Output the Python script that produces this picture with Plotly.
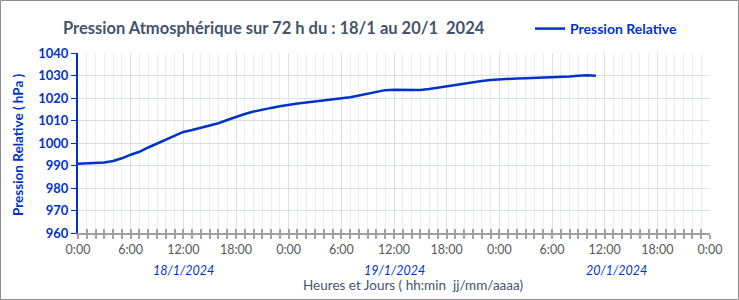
import plotly.graph_objects as go

# Data: hours since 18/1/2024 00:00 and relative pressure (hPa)
hours = list(range(0, 60))
pressure = [990.8, 991.0, 991.1, 991.3, 992.0, 993.2, 994.8, 996.1, 998.0, 999.8,
            1001.6, 1003.4, 1004.9, 1005.8, 1006.8, 1007.6, 1008.8, 1010.2, 1011.6, 1012.9,
            1014.0, 1014.9, 1015.6, 1016.3, 1017.0, 1017.6, 1018.0, 1018.5, 1018.9, 1019.3,
            1019.7, 1020.3, 1021.1, 1021.9, 1022.8, 1023.5, 1023.7, 1023.7, 1023.6, 1023.6,
            1024.0, 1024.6, 1025.3, 1026.0, 1026.7, 1027.2, 1027.6, 1028.0, 1028.3, 1028.5,
            1028.7, 1028.8, 1028.9, 1029.0, 1029.1, 1029.2, 1029.6, 1029.9, 1030.1, 1029.9]

x_tick_vals = [0, 6, 12, 18, 24, 30, 36, 42, 48, 54, 60, 66, 72]
x_tick_text = ["0:00", "6:00", "12:00", "18:00", "0:00", "6:00", "12:00", "18:00",
               "0:00", "6:00", "12:00", "18:00", "0:00"]
day_labels = ["18/1/2024", "19/1/2024", "20/1/2024"]
day_positions = [12, 36, 61.3]

W, H = 739, 300
ML, MR, MT, MB = 78, 29, 53, 67
PW, PH = W - ML - MR, H - MT - MB

BLUE = "#0033CC"
DARK = "#44546A"
GRAY_TXT = "#595959"
FONT = "Lato"

def px_x(p):
    return (p - ML) / PW

def px_y(p):
    return (H - MB - p) / PH

fig = go.Figure()
fig.add_trace(go.Scatter(x=hours, y=pressure, mode="lines", name="Pression Relative",
                         line=dict(color=BLUE, width=2.5)))
# invisible trace to create overlay axis for inner ticks
fig.add_trace(go.Scatter(x=[0], y=[960], xaxis="x2", mode="markers",
                         marker=dict(opacity=0), showlegend=False, hoverinfo="skip"))

fig.update_layout(
    width=W, height=H,
    margin=dict(l=ML, r=MR, t=MT, b=MB),
    paper_bgcolor="white", plot_bgcolor="white",
    font=dict(family=FONT, color=GRAY_TXT),
    title=dict(text="<b>Pression Atmosphérique sur 72 h du : 18/1 au 20/1  2024</b>",
               x=63 / W, xref="container", xanchor="left",
               y=1 - 28 / H, yref="container", yanchor="middle",
               font=dict(size=16.5, color=DARK, family=FONT)),
    showlegend=True,
    legend=dict(orientation="h", x=px_x(530), y=px_y(29), xanchor="left", yanchor="middle",
                font=dict(size=14, color=BLUE, family=FONT, weight="bold"),
                bgcolor="rgba(0,0,0,0)"),
    xaxis=dict(range=[0, 72], tickvals=x_tick_vals, ticktext=x_tick_text,
               showgrid=True, gridcolor="#DCDFE8", gridwidth=1,
               minor=dict(dtick=1, tick0=0, showgrid=True, gridcolor="#ECEEF3",
                          ticks="outside", ticklen=4, tickcolor="#A0A0A0", tickwidth=2),
               ticks="outside", ticklen=4, tickcolor="#A0A0A0", tickwidth=2,
               showline=True, linecolor="#A0A0A0", linewidth=2,
               tickfont=dict(size=12.5, color=GRAY_TXT, family=FONT),
               zeroline=False, fixedrange=True),
    xaxis2=dict(range=[0, 72], overlaying="x", side="bottom", tickvals=x_tick_vals,
                showticklabels=False, showgrid=False, ticks="inside", ticklen=4,
                tickcolor="#A0A0A0", tickwidth=2,
                minor=dict(dtick=1, tick0=0, ticks="inside", ticklen=4,
                           tickcolor="#A0A0A0", tickwidth=2),
                showline=False, zeroline=False),
    yaxis=dict(range=[960, 1040], dtick=10, showgrid=True, gridcolor="#DCDFE8",
               showline=True, linecolor=BLUE, linewidth=2,
               ticks="outside", ticklen=5, tickcolor=BLUE, tickwidth=1,
               tickfont=dict(size=13, color=BLUE, family=FONT, weight="bold"),
               zeroline=False),
)

annotations = [
    dict(text="<b>Pression Relative ( hPa )</b>", x=px_x(18), y=px_y(144),
         xref="paper", yref="paper", textangle=-90, showarrow=False,
         xanchor="center", yanchor="middle",
         font=dict(size=13.5, color=BLUE, family=FONT)),
    dict(text="Heures et Jours ( hh:min  jj/mm/aaaa)", x=px_x(413), y=px_y(285),
         xref="paper", yref="paper", showarrow=False,
         xanchor="center", yanchor="middle",
         font=dict(size=13.5, color=DARK, family=FONT)),
]
for lab, pos in zip(day_labels, day_positions):
    annotations.append(dict(text="<i>" + lab + "</i>", x=pos, xref="x",
                            y=px_y(270), yref="paper", showarrow=False,
                            xanchor="center", yanchor="middle",
                            font=dict(size=12.5, color=BLUE, family=FONT)))
fig.update_layout(annotations=annotations)

fig.add_shape(type="rect", xref="paper", yref="paper",
              x0=px_x(0.5), x1=px_x(W - 0.5), y0=px_y(H - 0.5), y1=px_y(0.5),
              line=dict(color="#8C8C8C", width=1), layer="below")

fig.write_html("out.html")
